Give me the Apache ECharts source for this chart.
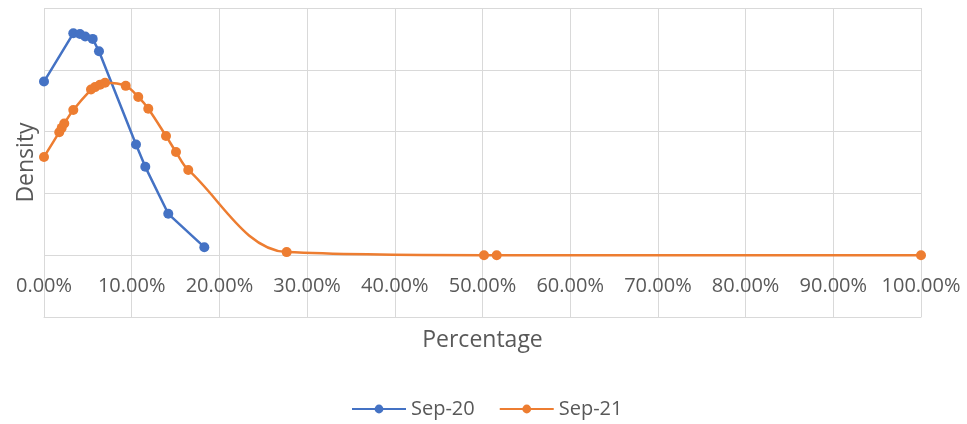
<!DOCTYPE html>
<html>
<head>
<meta charset="utf-8">
<script src="https://cdn.jsdelivr.net/npm/echarts@6/dist/echarts.min.js"></script>
<style>
  html, body { margin: 0; padding: 0; background: #fff; }
  #chart { width: 967px; height: 424px; }
</style>
</head>
<body>
<div id="chart"></div>
<script>
// Sep-20 : [share, density]
const sep20X = [0, 0.0334, 0.041, 0.047, 0.0555, 0.0627, 0.1049, 0.1155, 0.1417, 0.1828];
const sep20Y = [2.81, 3.59, 3.58, 3.54, 3.50, 3.30, 1.79, 1.43, 0.67, 0.13];

// Sep-21
const sep21X = [0, 0.0174, 0.0202, 0.0231, 0.0334, 0.0536, 0.0582, 0.0639, 0.0696, 0.0932,
                0.1075, 0.1189, 0.1391, 0.1505, 0.1645, 0.2767, 0.5017, 0.5162, 1.0];
const sep21Y = [1.59, 1.99, 2.06, 2.13, 2.35, 2.68, 2.72, 2.76, 2.79, 2.74,
                2.56, 2.37, 1.93, 1.67, 1.38, 0.05, 0, 0, 0];

const zip = (xs, ys) => xs.map((x, i) => [x, ys[i]]);

const myChart = echarts.init(document.getElementById('chart'));
const font = '"Open Sans", "Noto Sans", sans-serif';
const gridColor = '#d9d9d9';

const option = {
    backgroundColor: '#fff',
    animation: false,
    textStyle: { fontFamily: font },
    grid: { left: 44, right: 46, top: 8, bottom: 107 },
    xAxis: {
        type: 'value',
        min: 0,
        max: 1,
        interval: 0.1,
        name: 'Percentage',
        nameLocation: 'middle',
        nameGap: 12,
        nameTextStyle: { fontSize: 23, color: '#595959', fontFamily: font },
        axisLine: { onZero: false, lineStyle: { color: gridColor, width: 1 } },
        axisTick: { show: false },
        axisLabel: {
            margin: -41,
            fontSize: 20,
            color: '#595959',
            fontFamily: font,
            formatter: v => (v * 100).toFixed(2) + '%'
        },
        splitLine: { show: true, lineStyle: { color: gridColor, width: 1 } }
    },
    yAxis: {
        type: 'value',
        min: -1,
        max: 4,
        interval: 1,
        name: 'Density',
        nameLocation: 'middle',
        nameGap: 6,
        nameTextStyle: { fontSize: 23, color: '#595959', fontFamily: font },
        axisLine: { show: false },
        axisTick: { show: false },
        axisLabel: { show: false },
        splitLine: { show: true, lineStyle: { color: gridColor, width: 1 } }
    },
    legend: {
        top: 394,
        left: 346,
        itemWidth: 54,
        itemHeight: 11,
        itemGap: 24,
        textStyle: { fontSize: 20, color: '#595959', fontFamily: font },
        data: ['Sep-20', 'Sep-21']
    },
    series: [
        {
            name: 'Sep-20',
            type: 'line',
            data: zip(sep20X, sep20Y),
            symbol: 'circle',
            symbolSize: 10,
            color: '#4472C4',
            lineStyle: { width: 2.5, color: '#4472C4' },
            itemStyle: { color: '#4472C4' }
        },
        {
            name: 'Sep-21',
            type: 'line',
            data: zip(sep21X, sep21Y),
            smooth: 0.35,
            symbol: 'circle',
            symbolSize: 10,
            color: '#ED7D31',
            lineStyle: { width: 2.5, color: '#ED7D31' },
            itemStyle: { color: '#ED7D31' }
        }
    ]
};
myChart.setOption(option);
</script>
</body>
</html>
